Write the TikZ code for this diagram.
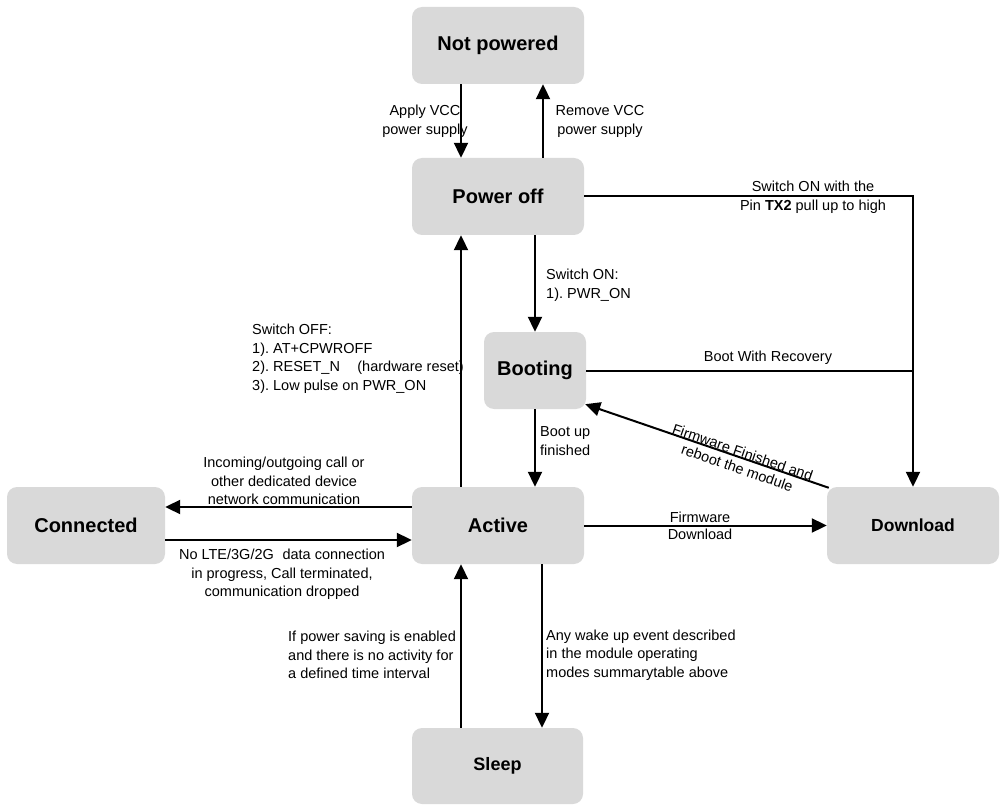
\documentclass[tikz,border=0pt]{standalone}
\usepackage{fontspec}
\setmainfont{Liberation Sans}
\usetikzlibrary{arrows.meta,calc}
\frenchspacing
\begin{document}
\begin{tikzpicture}[x=1pt,y=-1pt,
  state/.style={fill=stategray,rounded corners=10pt,inner sep=0pt,
    minimum width=172pt,minimum height=77pt,
    font=\fontsize{20}{24}\selectfont\bfseries},
  lbl/.style={inner sep=0pt,font=\fontsize{14.5}{18.5}\selectfont},
  arr/.style={line width=2pt,-{Triangle[length=15pt,width=14pt]}},
  ln/.style={line width=2pt}]
\definecolor{stategray}{HTML}{D9D9D9}
\useasboundingbox (0,0) rectangle (1002,805);

% states
\node[state] (np)    at (498,45.5)  {Not powered};
\node[state] (po)    at (498,196.5) {Power off};
\node[state,minimum width=102pt] (boot) at (535,370.5) {Booting};
\node[state] (act)   at (498,525.5) {Active};
\node[state,minimum width=158pt] (conn) at (86,525.5) {Connected};
\node[state,font=\fontsize{17.5}{21}\selectfont\bfseries] (dl) at (913,525.5) {Download};
\node[state,minimum width=171pt,minimum height=76pt,font=\fontsize{18}{22}\selectfont\bfseries] (sleep) at (497.5,766) {Sleep};

% transitions
\draw[arr] ([xshift=-37pt]np.south) -- ([xshift=-37pt]po.north);
\draw[arr] ([xshift=45pt]po.north) -- ([xshift=45pt]np.south);
\draw[arr] ([xshift=37pt]po.south) -- (boot.north);
\draw[arr] (po.east) -| (dl.north);
\draw[ln] (boot.east) -- (boot.east -| dl.north);
\draw[arr] (boot.south) -- (boot.south |- act.north);
\draw[arr] ([shift={(2,1)}]dl.north west) -- ([shift={(-1,-5)}]boot.south east);
\draw[arr] ([xshift=-37pt]act.north) -- ([xshift=-37pt]po.south);
\draw[arr] ([yshift=18.5pt]act.west) -- ([yshift=18.5pt]conn.east);
\draw[arr] ([yshift=-14.5pt]conn.east) -- ([yshift=-14.5pt]act.west);
\draw[arr] (act.east) -- (dl.west);
\draw[arr] ([xshift=-36.5pt]sleep.north) -- ([xshift=-37pt]act.south);
\draw[arr] ([xshift=44pt]act.south) -- ([xshift=44.5pt]sleep.north);

% transition labels
\node[lbl,align=center] (lapply) at (425,121.5) {Apply VCC\\power supply};
\node[lbl,align=center] (lremove) at (600,121.5) {Remove VCC\\power supply};
\node[lbl,align=center,font=\fontsize{14.5}{19}\selectfont] (ltx) at (813,197.5)
  {Switch ON with the\\Pin \textbf{TX2} pull up to high};
\node[lbl,align=left,anchor=west] (lswon) at (546,285) {Switch ON:\\1). PWR\_ON};
\node[lbl,align=left,anchor=west] (lswoff) at (252,359)
  {Switch OFF:\\1). AT+CPWROFF\\2). RESET\_N\hspace{1.2em}(hardware reset)\\3). Low pulse on PWR\_ON};
\node[lbl] (lrec) at (768,358) {Boot With Recovery};
\node[lbl,align=left,anchor=west] (lbootup) at (540,441) {Boot up\\finished};
\node[lbl,align=center,rotate=-19,font=\fontsize{14.5}{16.5}\selectfont] (lfwfin) at (740,460)
  {Firmware Finished and\\reboot the module};
\node[lbl,align=center] (linc) at (284,481)
  {Incoming/outgoing call or\\other dedicated device\\network communication};
\node[lbl,align=center] (lnolte) at (282,574.5)
  {No LTE/3G/2G\hspace{0.6em}data connection\\in progress, Call terminated,\\communication dropped};
\node[lbl,align=center,font=\fontsize{14.5}{17}\selectfont] (lfwdl) at (700,526) {Firmware\\Download};
\node[lbl,align=left,anchor=west] (lpsave) at (288,655)
  {If power saving is enabled\\and there is no activity for\\a defined time interval};
\node[lbl,align=left,anchor=west] (lwake) at (546,655)
  {Any wake up event described\\in the module operating\\modes summarytable above};
\end{tikzpicture}
\end{document}
